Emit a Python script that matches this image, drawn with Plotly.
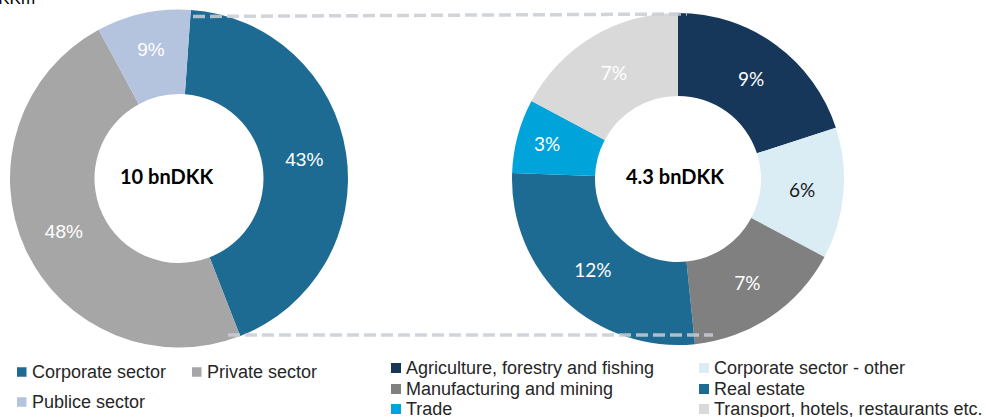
import plotly.graph_objects as go

W, H = 986, 417

# ---- data ----
sector_labels = ["Corporate sector", "Private sector", "Publice sector"]
sector_values = [43, 48, 9]
sector_text = ["43%", "48%", "9%"]
sector_colors = ["#1D6B92", "#A6A6A6", "#B4C3DE"]
sector_text_colors = ["#FFFFFF", "#FFFFFF", "#FFFFFF"]
sector_total = "10 bnDKK"

industry_labels = ["Agriculture, forestry and fishing", "Corporate sector - other",
                   "Manufacturing and mining", "Real estate", "Trade",
                   "Transport, hotels, restaurants etc."]
industry_values = [8.6, 5.5, 6.7, 11.7, 3.1, 7.4]
industry_text = ["9%", "6%", "7%", "12%", "3%", "7%"]
industry_colors = ["#17375A", "#DAEDF4", "#808080", "#1D6B92", "#00A3DA", "#D9D9D9"]
industry_text_colors = ["#FFFFFF", "#1A1A1A", "#FFFFFF", "#FFFFFF", "#FFFFFF", "#FFFFFF"]
industry_total = "4.3 bnDKK"

unit_label = "DKKm"


def px(x):
    return x / W


def py(y):
    return 1 - y / H


fig = go.Figure()

fig.add_trace(go.Pie(
    labels=sector_labels, values=sector_values, text=sector_text,
    textinfo="text", textposition="inside", insidetextorientation="horizontal",
    textfont=dict(family="Liberation Sans, Arial", size=19, color=sector_text_colors),
    marker=dict(colors=sector_colors, line=dict(width=0)),
    hole=0.5, sort=False, direction="clockwise", rotation=4,
    domain=dict(x=[px(10), px(348)], y=[py(347.5), py(9.5)]),
    showlegend=False,
))

fig.add_trace(go.Pie(
    labels=industry_labels, values=industry_values, text=industry_text,
    textinfo="text", textposition="inside", insidetextorientation="horizontal",
    textfont=dict(family="Lato", size=19, color=industry_text_colors),
    marker=dict(colors=industry_colors, line=dict(width=0)),
    hole=0.5, sort=False, direction="clockwise", rotation=0,
    domain=dict(x=[px(512), px(844)], y=[py(345), py(13)]),
    showlegend=False,
))

shapes = []
annotations = []

# totals in the donut holes
for txt, (cx, cy) in [(sector_total, (166, 176)), (industry_total, (675, 176))]:
    annotations.append(dict(text=txt, xref="paper", yref="paper",
                            x=px(cx), y=py(cy), xanchor="center", yanchor="middle",
                            showarrow=False,
                            font=dict(family="Lato", size=20, color="#000000",
                                      weight="bold")))

# dashed connector lines
for (x0, y0, x1, y1) in [(193, 16.5, 687, 14), (228, 335, 713, 335)]:
    shapes.append(dict(type="line", xref="paper", yref="paper",
                       x0=px(x0), y0=py(y0), x1=px(x1), y1=py(y1),
                       line=dict(color="#C9CED5", width=3.5, dash="12px,5px"),
                       opacity=0.85, layer="above"))


# legends (manual, to reproduce the two-column layout)
def add_legend(labels, colors, col_x, row_y, size, fsize, text_dx):
    for i, (lab, col) in enumerate(zip(labels, colors)):
        cx = col_x[i % len(col_x)]
        cy = row_y[i // len(col_x)]
        shapes.append(dict(type="rect", xref="paper", yref="paper",
                           x0=px(cx), x1=px(cx + size),
                           y0=py(cy + size / 2), y1=py(cy - size / 2),
                           fillcolor=col, line=dict(width=0)))
        annotations.append(dict(text=lab, xref="paper", yref="paper",
                                x=px(cx + text_dx), y=py(cy), xanchor="left",
                                yanchor="middle", showarrow=False,
                                font=dict(family="Liberation Sans, Arial",
                                          size=fsize, color="#262626")))


add_legend(sector_labels, sector_colors, [17, 192], [372, 402], 9.5, 18, 13)
add_legend(industry_labels, industry_colors, [391, 699], [368, 389, 409], 10, 18, 13)

annotations.append(dict(text=unit_label, xref="paper", yref="paper",
                        x=px(37), y=py(10), xanchor="right", yanchor="bottom",
                        showarrow=False,
                        font=dict(family="Liberation Sans, Arial", size=17, color="#000000")))

fig.update_layout(
    width=W, height=H,
    margin=dict(l=0, r=0, t=0, b=0),
    paper_bgcolor="#FFFFFF", plot_bgcolor="#FFFFFF",
    shapes=shapes, annotations=annotations,
)

fig.write_html("out.html", config={"displayModeBar": False},
               post_script="document.body.style.margin='0px';")
